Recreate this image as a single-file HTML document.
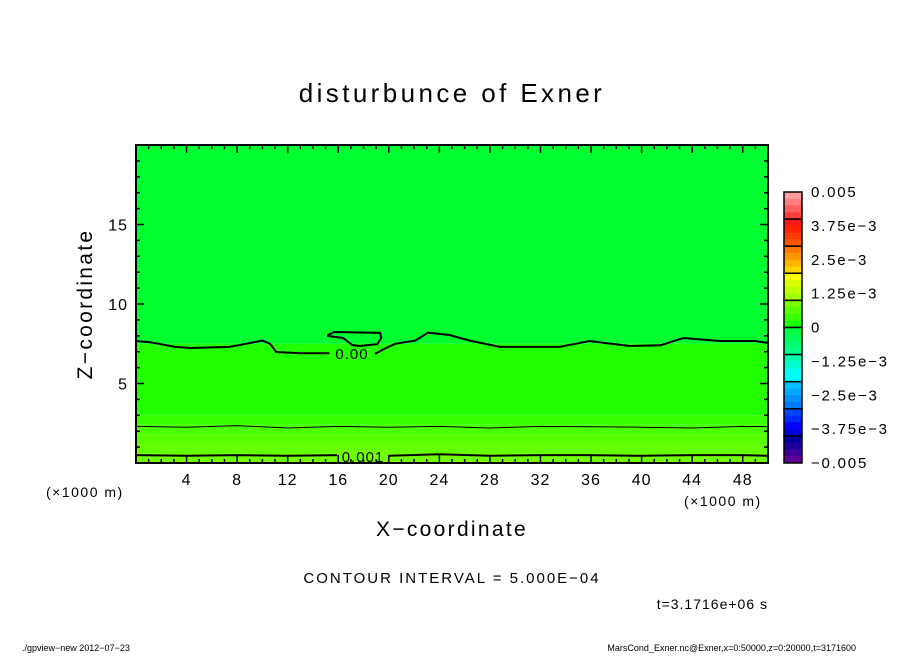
<!DOCTYPE html>
<html><head><meta charset="utf-8"><style>
body{margin:0;background:#fff;}
svg text{font-family:"Liberation Sans",sans-serif;fill:#000;}
</style></head><body>
<svg width="904" height="654" viewBox="0 0 904 654" xmlns="http://www.w3.org/2000/svg">
<text x="452" y="102" font-size="26" letter-spacing="3.4" text-anchor="middle">disturbunce of Exner</text>
<g id="plot"></g>
<g id="cbar"></g>
<text x="452" y="536" font-size="21" letter-spacing="2.3" text-anchor="middle">X−coordinate</text>
<text transform="translate(92,304) rotate(-90)" font-size="21" letter-spacing="2.3" text-anchor="middle">Z−coordinate</text>
<text x="46" y="497" font-size="14" letter-spacing="1.5">(×1000 m)</text>
<text x="684" y="506" font-size="14" letter-spacing="1.5">(×1000 m)</text>
<text x="452" y="583" font-size="15" letter-spacing="2" text-anchor="middle">CONTOUR INTERVAL = 5.000E−04</text>
<text x="768" y="609" font-size="14" letter-spacing="1" text-anchor="end">t=3.1716e+06 s</text>
<text x="22" y="651" font-size="9">./gpview−new   2012−07−23</text>
<text x="856" y="651" font-size="9" text-anchor="end">MarsCond_Exner.nc@Exner,x=0:50000,z=0:20000,t=3171600</text>
</svg>
<script>
const xTicks=[4,8,12,16,20,24,28,32,36,40,44,48];
const yTicks=[5,10,15];
const bandZ=[0,0.6,1.2,1.8,2.4,3.0,7.5];
const bandTop=[0.6,1.2,1.8,2.4,3.0,7.5,20];
const bandColors=["#70ff00","#64ff00","#58ff00","#4cff00","#38ff00","#22ff00","#00ff30"];
const zeroX=[0,1.1,3.1,4.3,7.4,8.7,10,10.6,11.1,13,15.3];
const zeroZ=[7.67,7.6,7.3,7.23,7.3,7.5,7.7,7.5,6.98,6.9,6.9];
const zero2X=[18.9,19.7,20.5,22.1,23.1,24.8,26.4,28.8,33.5,35.9,37.1,39.1,41.5,43.3,46.2,49,50];
const zero2Z=[6.86,7.2,7.5,7.7,8.2,8.05,7.7,7.3,7.3,7.67,7.55,7.36,7.4,7.86,7.67,7.67,7.55];
const loopX=[15.2,15.7,19.3,19.4,19.1,17.7,17.1,16.4,15.2];
const loopZ=[8.05,8.24,8.18,7.86,7.48,7.36,7.42,7.86,7.99];
const c1X=[0,4,8,12,16,20,24,28,32,36,40,44,48,50];
const c1Z=[2.3,2.25,2.35,2.2,2.3,2.25,2.3,2.2,2.3,2.28,2.25,2.2,2.3,2.28];
const c2X=[0,4,8,12,16,20,24,28,32,36,40,44,48,50];
const c2Z=[0.5,0.45,0.5,0.45,0.5,0.45,0.55,0.45,0.5,0.5,0.45,0.5,0.5,0.45];
const cbLabels=["0.005","3.75e−3","2.5e−3","1.25e−3","0","−1.25e−3","−2.5e−3","−3.75e−3","−0.005"];
const cbColors=[["#ff9e9e","#ff7e7e","#ff5e5e","#ff3c3c"],["#ff1818","#ff2400","#ff3c00","#ff5400"],["#ff7800","#ff9600","#ffb400","#ffd400"],["#ffff00","#d8ff00","#bcff00","#a0ff00"],["#78ff00","#58ff00","#38ff00","#18ff00"],["#00ff40","#00ff58","#00ff70","#00ff88"],["#00ffb0","#00ffd0","#00fff0","#00ffff"],["#00c0ff","#00a8ff","#0090ff","#0078ff"],["#0048ff","#0028ff","#0000ff","#0000dc"],["#0000a0","#200098","#400098","#600098"]];
const NS="http://www.w3.org/2000/svg";
const X0=136,X1=768,Y0=463,Y1=145;
const sx=v=>X0+v/50*(X1-X0), sy=v=>Y0-v/20*(Y0-Y1);
function mk(p,t,a){const e=document.createElementNS(NS,t);for(const k in a)e.setAttribute(k,a[k]);p.appendChild(e);return e;}
const plot=document.getElementById('plot');
bandZ.forEach((z,i)=>{const r=mk(plot,'rect',{x:X0,y:sy(bandTop[i]),width:X1-X0,height:sy(z)-sy(bandTop[i]),fill:bandColors[i]});

});
function line(xs,zs,closed,name){const d=xs.map((x,i)=>(i?'L':'M')+sx(x).toFixed(1)+','+sy(zs[i]).toFixed(1)).join('')+(closed?'Z':'');
const p=mk(plot,'path',{d:d,fill:'none',stroke:'#000','stroke-width':name.indexOf('thin')>=0?1:2});

}
line(zeroX,zeroZ,false,'contour-zero-left');
line(zero2X,zero2Z,false,'contour-zero-right');
line(loopX,loopZ,true,'contour-zero-loop');
line(c1X,c1Z,false,'contour-thin-0005');
line(c2X.slice(0,5),c2Z.slice(0,5),false,'contour-001-left');
line(c2X.slice(5),c2Z.slice(5),false,'contour-001-right');
line([16,20],[0.5,0.45],false,'contour-001-mid');
let t=mk(plot,'text',{x:352,y:359,'font-size':15,'letter-spacing':1,'text-anchor':'middle'});t.textContent='0.00';


mk(plot,'rect',{x:337,y:450,width:52,height:12,fill:'#70ff00'});
t=mk(plot,'text',{x:363,y:462,'font-size':15,'letter-spacing':1,'text-anchor':'middle'});t.textContent='0.001';


mk(plot,'rect',{x:X0,y:Y1,width:X1-X0,height:Y0-Y1,fill:'none',stroke:'#000','stroke-width':2});
for(let v=1;v<50;v++){const L=v%4===0?8:4;const x=sx(v);
mk(plot,'line',{x1:x,y1:Y0,x2:x,y2:Y0-L,stroke:'#000','stroke-width':1.5});
mk(plot,'line',{x1:x,y1:Y1,x2:x,y2:Y1+L,stroke:'#000','stroke-width':1.5});}
for(let v=1;v<20;v++){const L=v%5===0?8:4;const y=sy(v);
mk(plot,'line',{x1:X0,y1:y,x2:X0+L,y2:y,stroke:'#000','stroke-width':1.5});
mk(plot,'line',{x1:X1,y1:y,x2:X1-L,y2:y,stroke:'#000','stroke-width':1.5});}
xTicks.forEach(v=>{const e=mk(plot,'text',{x:sx(v),y:485,'font-size':16,'letter-spacing':1,'text-anchor':'middle'});e.textContent=v;

});
yTicks.forEach(v=>{const e=mk(plot,'text',{x:128,y:sy(v)+6,'font-size':16,'letter-spacing':1,'text-anchor':'end'});e.textContent=v;

});
const cb=document.getElementById('cbar');
const CT=192,CB=463,CX=784,CW=18;
const gh=(CB-CT)/cbColors.length;
cbColors.forEach((g,i)=>{g.forEach((c,j)=>{const r=mk(cb,'rect',{x:CX,y:CT+i*gh+j*gh/4,width:CW,height:gh/4+0.5,fill:c});

});
mk(cb,'rect',{x:CX,y:CT+i*gh,width:CW,height:gh,fill:'none',stroke:'#000','stroke-width':1.5});});
const lh=(CB-CT)/(cbLabels.length-1);
cbLabels.forEach((s,i)=>{const e=mk(cb,'text',{x:811,y:CT+i*lh+5,'font-size':15,'letter-spacing':1.8});e.textContent=s;

});
</script>
</body></html>
